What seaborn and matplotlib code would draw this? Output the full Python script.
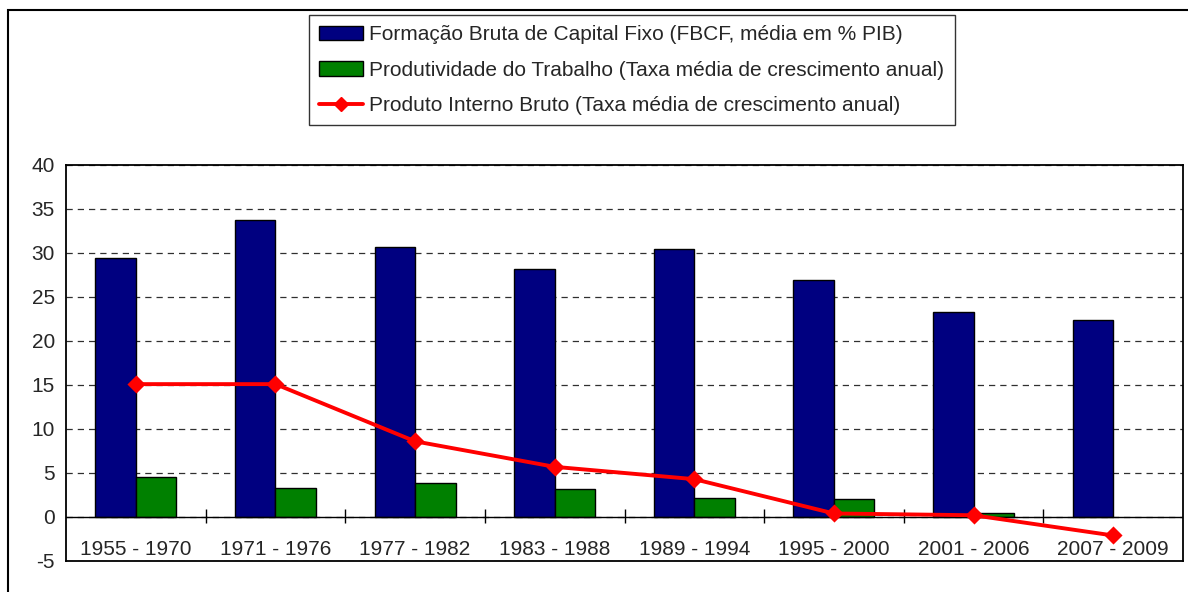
import numpy as np
import pandas as pd
import matplotlib
matplotlib.use("Agg")
import matplotlib.pyplot as plt
import seaborn as sns
from matplotlib.patches import Patch, Rectangle
from matplotlib.lines import Line2D

# periods and series
periods = ["1955 - 1970", "1971 - 1976", "1977 - 1982", "1983 - 1988",
           "1989 - 1994", "1995 - 2000", "2001 - 2006", "2007 - 2009"]
fbcf = [29.4, 33.8, 30.7, 28.2, 30.5, 26.9, 23.3, 22.4]
produtividade = [4.6, 3.3, 3.9, 3.2, 2.2, 2.0, 0.4, np.nan]
pib = [15.1, 15.1, 8.6, 5.7, 4.3, 0.4, 0.2, -2.1]

lbl_fbcf = "Formação Bruta de Capital Fixo (FBCF, média em % PIB)"
lbl_prod = "Produtividade do Trabalho (Taxa média de crescimento anual)"
lbl_pib = "Produto Interno Bruto (Taxa média de crescimento anual)"

navy = "#000080"
green = "#008000"
red = "#FF0000"

sns.set_style("white")
plt.rcParams["font.family"] = ["Liberation Sans", "DejaVu Sans"]
plt.rcParams["axes.unicode_minus"] = False

df = pd.DataFrame({
    "Periodo": periods * 2,
    "Valor": fbcf + produtividade,
    "Serie": [lbl_fbcf] * len(periods) + [lbl_prod] * len(periods),
})

fig = plt.figure(figsize=(11.88, 5.92), dpi=100)
ax = fig.add_axes([66 / 1188, 31 / 592, (1183 - 66) / 1188, (561 - 165) / 592])

sns.barplot(data=df, x="Periodo", y="Valor", hue="Serie", order=periods,
            palette=[navy, green], saturation=1, width=0.58, gap=0,
            edgecolor="black", linewidth=1, errorbar=None, legend=False,
            ax=ax, zorder=3)

sns.pointplot(x=periods, y=pib, order=periods, color=red, marker="D",
              markersize=7, linewidth=2.8, errorbar=None, ax=ax, zorder=5)

ax.set_ylim(-5, 40)
ax.set_xlim(-0.5, len(periods) - 0.5)
ax.set_yticks(range(-5, 41, 5))
ax.set_xlabel("")
ax.set_ylabel("")

# dashed grid, solid zero line
ax.yaxis.grid(True, linestyle=(0, (5, 4)), color="#303030", linewidth=0.9, zorder=0)
ax.set_axisbelow(True)
ax.axhline(0, color="black", linewidth=1, zorder=4)
ax.vlines(np.arange(0.5, len(periods) - 0.5, 1), -0.7, 0.9, color="black",
          linewidth=1, zorder=4)

for s in ax.spines.values():
    s.set_visible(True)
    s.set_color("black")
    s.set_linewidth(1.3)

ax.tick_params(axis="y", direction="out", length=5, width=1, pad=3,
               labelsize=15, color="black")
ax.tick_params(axis="x", length=0, pad=-15, labelsize=15)

handles = [
    Patch(facecolor=navy, edgecolor="black", linewidth=1),
    Patch(facecolor=green, edgecolor="black", linewidth=1),
    Line2D([], [], color=red, linewidth=2.8, marker="D", markersize=7),
]
leg = fig.legend(handles, [lbl_fbcf, lbl_prod, lbl_pib], loc="upper left",
                 bbox_to_anchor=(309 / 1188, 1 - 15 / 592), fontsize=15,
                 frameon=True, fancybox=False, edgecolor="black",
                 handlelength=2.1, handletextpad=0.3, labelspacing=0.78,
                 borderpad=0.5, borderaxespad=0)
leg.get_frame().set_linewidth(1)

# outer chart frame (cropped at right and bottom)
fig.patches.append(Rectangle((8 / 1188, -0.1), 2, 1 - 10 / 592 + 0.1,
                             transform=fig.transFigure, fill=False,
                             edgecolor="black", linewidth=1.5))

fig.savefig("out.png", dpi=100)
